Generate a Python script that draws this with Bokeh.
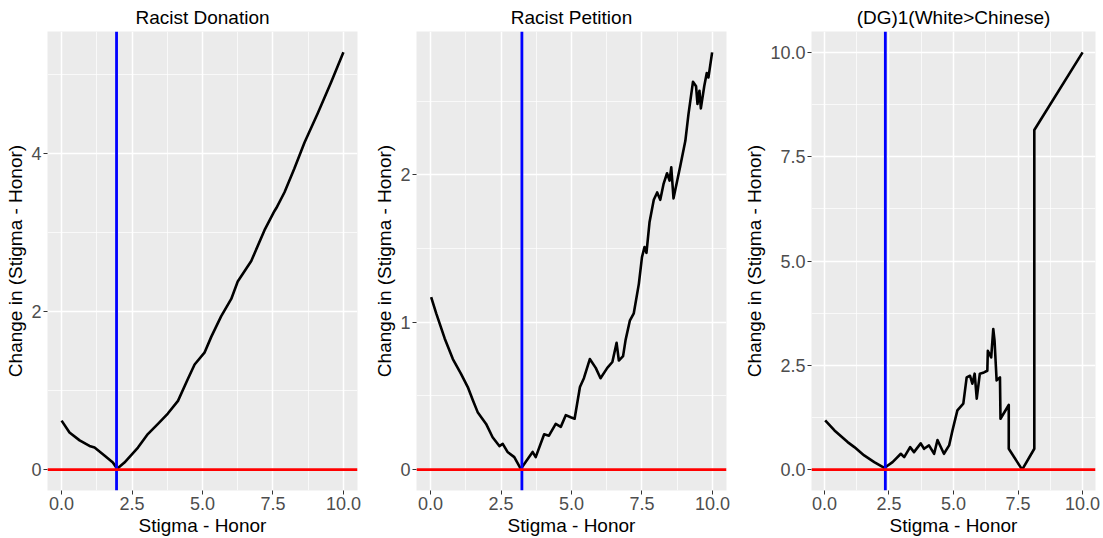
from bokeh.plotting import figure
from bokeh.layouts import row
from bokeh.models import FixedTicker, PrintfTickFormatter, Span, Range1d
from bokeh.embed import file_html
from bokeh.resources import INLINE

# ---------------- data ----------------
titles = ["Racist Donation", "Racist Petition", "(DG)1(White>Chinese)"]
x_label = "Stigma - Honor"
y_label = "Change in (Stigma - Honor)"

don_x = [0.0, 0.28, 0.64, 0.99, 1.17, 1.52, 1.82, 1.97, 2.23, 2.71, 3.06, 3.42, 3.77,
         4.13, 4.46, 4.72, 5.07, 5.31, 5.66, 6.02, 6.25, 6.73, 7.2, 7.55, 7.62, 7.91,
         8.26, 8.62, 9.09, 9.56, 10.0]
don_y = [0.62, 0.47, 0.37, 0.3, 0.28, 0.18, 0.09, 0.01, 0.09, 0.28, 0.45, 0.58, 0.71,
         0.87, 1.13, 1.33, 1.48, 1.68, 1.94, 2.16, 2.38, 2.64, 3.03, 3.27, 3.31, 3.51,
         3.81, 4.14, 4.51, 4.9, 5.28]

pet_x = [0.02, 0.2, 0.5, 0.79, 1.08, 1.32, 1.5, 1.67, 1.97, 2.2, 2.44, 2.56, 2.73,
         2.97, 3.2, 3.44, 3.62, 3.73, 4.03, 4.2, 4.44, 4.62, 4.8, 4.97, 5.11, 5.3,
         5.44, 5.65, 5.86, 6.03, 6.27, 6.45, 6.6, 6.68, 6.83, 6.92, 7.07, 7.21, 7.39,
         7.5, 7.59, 7.66, 7.77, 7.92, 8.04, 8.15, 8.27, 8.39, 8.48, 8.54, 8.62, 8.86,
         9.04, 9.15, 9.31, 9.42, 9.47, 9.54, 9.59, 9.71, 9.8, 9.86, 9.99]
pet_y = [1.17, 1.06, 0.89, 0.75, 0.65, 0.56, 0.47, 0.39, 0.31, 0.22, 0.16, 0.175, 0.12,
         0.085, 0.005, 0.07, 0.12, 0.085, 0.24, 0.23, 0.31, 0.29, 0.37, 0.355, 0.345, 0.56,
         0.62, 0.75, 0.69, 0.62, 0.69, 0.73, 0.86, 0.74, 0.77, 0.88, 1.01, 1.06, 1.26,
         1.44, 1.51, 1.47, 1.68, 1.83, 1.88, 1.83, 1.94, 2.01, 1.96, 2.05, 1.84, 2.06,
         2.23, 2.41, 2.63, 2.6, 2.48, 2.57, 2.45, 2.6, 2.69, 2.66, 2.83]

dg_x = [0.03, 0.39, 0.9, 1.16, 1.54, 1.93, 2.32, 2.64, 2.96, 3.09, 3.32, 3.47, 3.73,
        3.86, 4.05, 4.25, 4.38, 4.63, 4.83, 4.96, 5.15, 5.38, 5.51, 5.64, 5.73, 5.82,
        5.9, 6.02, 6.18, 6.31, 6.33, 6.46, 6.54, 6.59, 6.67, 6.8, 6.82, 7.14, 7.14,
        7.66, 8.13, 8.13, 10.0]
dg_y = [1.18, 0.94, 0.66, 0.54, 0.34, 0.18, 0.04, 0.18, 0.38, 0.3, 0.54, 0.42, 0.63,
        0.5, 0.58, 0.38, 0.71, 0.38, 0.58, 0.94, 1.42, 1.58, 2.21, 2.25, 2.06, 2.3,
        1.7, 2.3, 2.33, 2.37, 2.85, 2.69, 3.37, 3.09, 2.14, 2.21, 1.22, 1.55, 0.5,
        0.0, 0.5, 8.14, 10.0]

vline_x = [1.95, 3.24, 2.36]

x_ticks = [0.0, 2.5, 5.0, 7.5, 10.0]
x_minor = [1.25, 3.75, 6.25, 8.75]
y_ticks = [[0, 2, 4], [0, 1, 2], [0.0, 2.5, 5.0, 7.5, 10.0]]
y_minor = [[1, 3, 5], [0.5, 1.5, 2.5], [1.25, 3.75, 6.25, 8.75]]
y_fmt = ["%d", "%d", "%.1f"]
y_ranges = [(-0.264, 5.544), (-0.1415, 2.9715), (-0.5, 10.5)]

series = [(don_x, don_y), (pet_x, pet_y), (dg_x, dg_y)]

widths = [368, 367, 368]
left_b = [47, 48, 76]
right_b = [11, 9, 8]

FONT = "Liberation Sans"

figs = []
for i in range(3):
    p = figure(width=widths[i], height=538, output_backend="svg", toolbar_location=None,
               x_range=Range1d(-0.5, 10.5), y_range=Range1d(*y_ranges[i]),
               min_border_left=left_b[i], min_border_right=right_b[i],
               min_border_top=31, min_border_bottom=48)
    p.title.text = titles[i]
    p.title.align = "center"
    p.title.text_font = FONT
    p.title.text_font_size = "19px"
    p.title.text_font_style = "normal"
    p.title.text_color = "black"
    p.title.standoff = 7
    p.background_fill_color = "#EBEBEB"
    p.border_fill_color = "white"
    p.outline_line_color = None

    p.xaxis.ticker = FixedTicker(ticks=x_ticks, minor_ticks=x_minor)
    p.xaxis.formatter = PrintfTickFormatter(format="%.1f")
    p.yaxis.ticker = FixedTicker(ticks=y_ticks[i], minor_ticks=y_minor[i])
    p.yaxis.formatter = PrintfTickFormatter(format=y_fmt[i])
    p.xaxis.axis_label = x_label
    p.yaxis.axis_label = y_label
    for ax in (p.xaxis, p.yaxis):
        ax.axis_line_color = None
        ax.major_tick_line_color = "#333333"
        ax.major_tick_out = 4
        ax.major_tick_in = 0
        ax.minor_tick_line_color = None
        ax.major_label_text_font = FONT
        ax.major_label_text_font_size = "18px"
        ax.major_label_text_color = "#4D4D4D"
        ax.axis_label_text_font = FONT
        ax.axis_label_text_font_size = "19px"
        ax.axis_label_text_font_style = "normal"
        ax.axis_label_text_color = "black"
        ax.major_label_standoff = 2
        ax.axis_label_standoff = 2
    p.grid.grid_line_color = "white"
    p.grid.grid_line_width = 1.5
    p.grid.minor_grid_line_color = "white"
    p.grid.minor_grid_line_width = 0.7

    xs, ys = series[i]
    p.line(xs, ys, line_color="black", line_width=2.6, line_join="round")
    p.add_layout(Span(location=vline_x[i], dimension="height", line_color="blue", line_width=2.8))
    p.add_layout(Span(location=0, dimension="width", line_color="red", line_width=2.8))
    figs.append(p)

layout = row(*figs)
open("out.html", "w").write(file_html(layout, INLINE))
